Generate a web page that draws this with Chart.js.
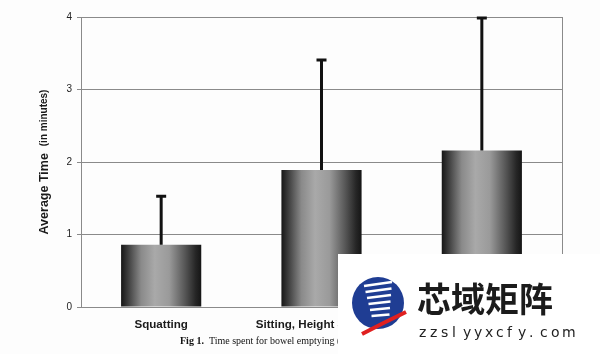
<!DOCTYPE html>
<html>
<head>
<meta charset="utf-8">
<script src="https://cdn.jsdelivr.net/npm/chart.js@4.4.1/dist/chart.umd.min.js"></script>
<style>
  html, body { margin: 0; padding: 0; background: #fdfdfd; }
  #wrap { position: relative; width: 600px; height: 354px; }
</style>
</head>
<body>
<div id="wrap"><canvas id="chart_bowelTime"></canvas></div>
<script>
// data
var categories = ['Squatting', 'Sitting, Height 31-32 cm', 'Sitting, Height 41-42 cm'];
var meanTime = [0.86, 1.89, 2.16];
var errorTop = [1.54, 3.42, 4.0];
var yTicks = [0, 1, 2, 3, 4];

function barGradient(context) {
    var chart = context.chart;
    var area = chart.chartArea;
    if (!area || context.dataIndex === undefined) return '#777';
    var x = chart.scales.x;
    var cx = x.getPixelForValue(context.dataIndex);
    var half = (area.right - area.left) / categories.length * 0.25;
    var g = chart.ctx.createLinearGradient(cx - half, 0, cx + half, 0);
    g.addColorStop(0, '#161616');
    g.addColorStop(0.08, '#3a3a3a');
    g.addColorStop(0.25, '#8a8a8a');
    g.addColorStop(0.42, '#a9a9a9');
    g.addColorStop(0.6, '#9a9a9a');
    g.addColorStop(0.8, '#555555');
    g.addColorStop(0.93, '#262626');
    g.addColorStop(1, '#151515');
    return g;
}

var chart_bowelTime = new Chart(document.getElementById('chart_bowelTime'), {
    type: 'bar',
    data: {
        labels: categories,
        datasets: [
            {
                label: 'Average time',
                data: meanTime,
                backgroundColor: barGradient,
                borderWidth: 0,
                barPercentage: 0.5,
                categoryPercentage: 1.0
            }
        ]
    },
    options: {
        animation: false,
        responsive: true,
        maintainAspectRatio: false,
        layout: {
            padding: { top: 17, right: 38, left: 0, bottom: 0 }
        },
        plugins: {
            legend: { display: false },
            tooltip: { enabled: false }
        },
        scales: {
            x: {
                grid: { display: false, drawTicks: false },
                border: { display: true, color: '#8a8a8a', width: 1 },
                ticks: {
                    padding: 11,
                    color: '#1a1a1a',
                    font: { family: 'Liberation Sans', size: 11.6, weight: 'bold' },
                    maxRotation: 0,
                    autoSkip: false
                },
                afterFit: function(scale) { scale.height = 47; }
            },
            y: {
                min: 0,
                max: 4,
                afterBuildTicks: function(scale) {
                    scale.ticks = yTicks.map(function(v) { return { value: v }; });
                },
                grid: { color: '#8a8a8a', lineWidth: 1, tickLength: 4 },
                border: { display: true, color: '#8a8a8a', width: 1 },
                ticks: {
                    padding: 5,
                    color: '#222',
                    font: { family: 'Liberation Sans', size: 10 }
                },
                afterFit: function(scale) { scale.width = 81; }
            }
        }
    },
    plugins: [{
        id: 'figureExtras',
        beforeDraw: function(chart) {
            var ctx = chart.ctx;
            ctx.save();
            ctx.fillStyle = '#fdfdfd';
            ctx.fillRect(0, 0, chart.width, chart.height);
            ctx.restore();
        },
        afterDatasetsDraw: function(chart) {
            var ctx = chart.ctx;
            var x = chart.scales.x, y = chart.scales.y, area = chart.chartArea;
            ctx.save();
            // right frame line
            ctx.strokeStyle = '#8a8a8a';
            ctx.lineWidth = 1;
            ctx.beginPath();
            ctx.moveTo(area.right + 0.5, area.top);
            ctx.lineTo(area.right + 0.5, area.bottom);
            ctx.stroke();
            // error bars
            ctx.strokeStyle = '#111';
            ctx.lineWidth = 3;
            for (var i = 0; i < categories.length; i++) {
                var cx = x.getPixelForValue(i);
                var y0 = y.getPixelForValue(meanTime[i]);
                var y1 = y.getPixelForValue(errorTop[i]);
                ctx.beginPath();
                ctx.moveTo(cx, y0);
                ctx.lineTo(cx, y1);
                ctx.moveTo(cx - 5, y1 + 1);
                ctx.lineTo(cx + 5, y1 + 1);
                ctx.stroke();
            }
            // y axis title, two sizes
            ctx.translate(45, (area.top + area.bottom) / 2);
            ctx.rotate(-Math.PI / 2);
            ctx.fillStyle = '#1a1a1a';
            ctx.textBaseline = 'middle';
            var a = 'Average Time  ';
            ctx.font = 'bold 12.5px "Liberation Sans"';
            var wa = ctx.measureText(a).width;
            ctx.font = 'bold 10px "Liberation Sans"';
            var b = '(in minutes)';
            var wb = ctx.measureText(b).width;
            var sx = -(wa + wb) / 2;
            ctx.font = 'bold 12.5px "Liberation Sans"';
            ctx.textAlign = 'left';
            ctx.fillText(a, sx, 0);
            ctx.font = 'bold 10px "Liberation Sans"';
            ctx.fillText(b, sx + wa, -1);
            ctx.restore();
        },
        afterDraw: function(chart) {
            var ctx = chart.ctx;
            ctx.save();
            // caption
            ctx.fillStyle = '#111';
            ctx.textBaseline = 'alphabetic';
            ctx.font = 'bold 10px "Liberation Serif"';
            ctx.fillText('Fig 1.', 180, 344);
            var w = ctx.measureText('Fig 1.  ').width;
            ctx.font = '10px "Liberation Serif"';
            ctx.fillText('Time spent for bowel emptying (in minutes)', 180 + w, 344);
            // site watermark panel
            ctx.fillStyle = '#ffffff';
            ctx.fillRect(338, 254, 262, 100);
            // logo
            ctx.fillStyle = '#1f3d93';
            ctx.beginPath();
            ctx.arc(378, 303, 26, 0, Math.PI * 2);
            ctx.fill();
            ctx.strokeStyle = '#ffffff';
            ctx.lineWidth = 2.5;
            for (var k = 0; k < 6; k++) {
                ctx.beginPath();
                ctx.moveTo(364 + k * 1.5, 286 + k * 6);
                ctx.lineTo(392 - k * 0.5, 282 + k * 6.5);
                ctx.stroke();
            }
            ctx.strokeStyle = '#e02020';
            ctx.lineWidth = 4;
            ctx.beginPath();
            ctx.moveTo(362, 334);
            ctx.quadraticCurveTo(385, 322, 406, 312);
            ctx.stroke();
            // text
            ctx.fillStyle = '#1b1b1b';
            ctx.font = 'bold 34px "Noto Sans CJK SC"';
            ctx.textBaseline = 'middle';
            ctx.fillText('芯域矩阵', 417, 299);
            ctx.font = '14px "DejaVu Sans"';
            ctx.fillStyle = '#222';
            var site = 'zzslyyxcfy.com';
            for (var c = 0; c < site.length; c++) {
                ctx.fillText(site[c], 419 + c * 11, 333);
            }
            ctx.restore();
        }
    }]
});
</script>
</body>
</html>
